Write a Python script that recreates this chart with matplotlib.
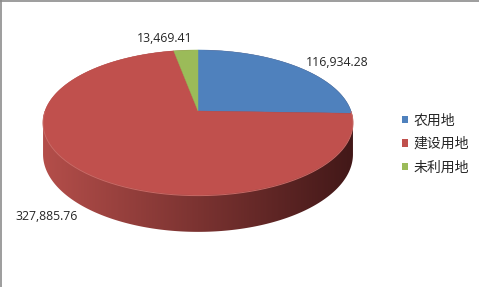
import numpy as np
import matplotlib
matplotlib.use("Agg")
import matplotlib.pyplot as plt
from matplotlib.patches import Polygon, Patch

plt.rcParams['font.family'] = ['Open Sans', 'Noto Sans CJK SC', 'DejaVu Sans']

categories = ['农用地', '建设用地', '未利用地']
values = [116934.28, 327885.76, 13469.41]
value_labels = ['116,934.28', '327,885.76', '13,469.41']
colors = ['#4F81BD', '#C0504D', '#9BBB59']

W, H = 479, 287
fig = plt.figure(figsize=(W / 100, H / 100), dpi=100)
ax = fig.add_axes([0, 0, 1, 1])
ax.set_xlim(0, W)
ax.set_ylim(H, 0)
ax.axis('off')

# perspective-projected pie geometry (layout)
cx, cy = 198.0, 111.0
A, B, k = 153.0, 70.7, 0.1586
D0 = 31.0


def proj(theta_deg, depth=0.0):
    t = np.radians(theta_deg)
    u, v = np.cos(t), -np.sin(t)
    den = 1 - k * v
    return cx + A * u / den, cy + B * v / den + depth / den


# side (extrusion) with horizontal gradient
th = np.linspace(0, 360, 721)
tx, ty = proj(th)
bx, by = proj(th, D0)
pts = np.vstack([np.column_stack([tx, ty]), np.column_stack([bx, by])])


def hull(p):
    p = sorted(map(tuple, p))
    def cross(o, a, b):
        return (a[0]-o[0])*(b[1]-o[1]) - (a[1]-o[1])*(b[0]-o[0])
    lower, upper = [], []
    for q in p:
        while len(lower) >= 2 and cross(lower[-2], lower[-1], q) <= 0:
            lower.pop()
        lower.append(q)
    for q in reversed(p):
        while len(upper) >= 2 and cross(upper[-2], upper[-1], q) <= 0:
            upper.pop()
        upper.append(q)
    return np.array(lower[:-1] + upper[:-1])


hp = hull(pts)
clip = Polygon(hp, closed=True, facecolor='none', edgecolor='none', transform=ax.transData)
ax.add_patch(clip)
x0, x1 = hp[:, 0].min(), hp[:, 0].max()
y0, y1 = hp[:, 1].min(), hp[:, 1].max()
c_left = np.array([180, 78, 74]) / 255
c_right = np.array([66, 24, 24]) / 255
n = 300
f = np.linspace(0, 1, n)
grad = (c_left[None, :] * (1 - f[:, None]) + c_right[None, :] * f[:, None])[None, :, :]
im = ax.imshow(grad, extent=[x0, x1, y1, y0], aspect='auto', interpolation='bilinear', zorder=1)
im.set_clip_path(clip)

# top surface wedges, starting at 12 o'clock, clockwise
total = sum(values)
start = 90.0
for val, col in zip(values, colors):
    sweep = 360.0 * val / total
    a = np.linspace(start, start - sweep, max(int(sweep * 2), 4))
    wx, wy = proj(a)
    poly = np.vstack([[cx, cy], np.column_stack([wx, wy])])
    ax.add_patch(Polygon(poly, closed=True, facecolor=col, edgecolor=col, linewidth=0.3, zorder=2))
    start -= sweep

# subtle rim highlight on the front edge
fa = np.linspace(0, -180, 200)
fx, fy = proj(fa)
ax.plot(fx, fy + 0.6, color='#C96A66', linewidth=0.7, zorder=3)

# data labels
label_pos = [(337, 62), (47, 216), (165, 38)]
for (lx, ly), txt in zip(label_pos, value_labels):
    ax.text(lx, ly, txt, ha='center', va='center', fontsize=8.8, color='#262626', zorder=4)

# legend
handles = [Patch(facecolor=c, edgecolor='none') for c in colors]
leg = ax.legend(handles, categories, loc='center left',
                bbox_to_anchor=(402 / W, 1 - 144 / H), bbox_transform=fig.transFigure,
                frameon=False, handlelength=0.45, handleheight=0.45,
                handletextpad=0.36, labelspacing=0.68, borderpad=0, borderaxespad=0,
                prop={'family': ['Noto Sans CJK SC'], 'size': 10})
for t in leg.get_texts():
    t.set_color('#262626')

# chart border (left & top visible)
ax.plot([0.5, 0.5], [0, H], color='#8C8C8C', linewidth=1.2, zorder=5)
ax.plot([0, W], [0.5, 0.5], color='#8C8C8C', linewidth=1.2, zorder=5)

fig.savefig('out.png', dpi=100)
